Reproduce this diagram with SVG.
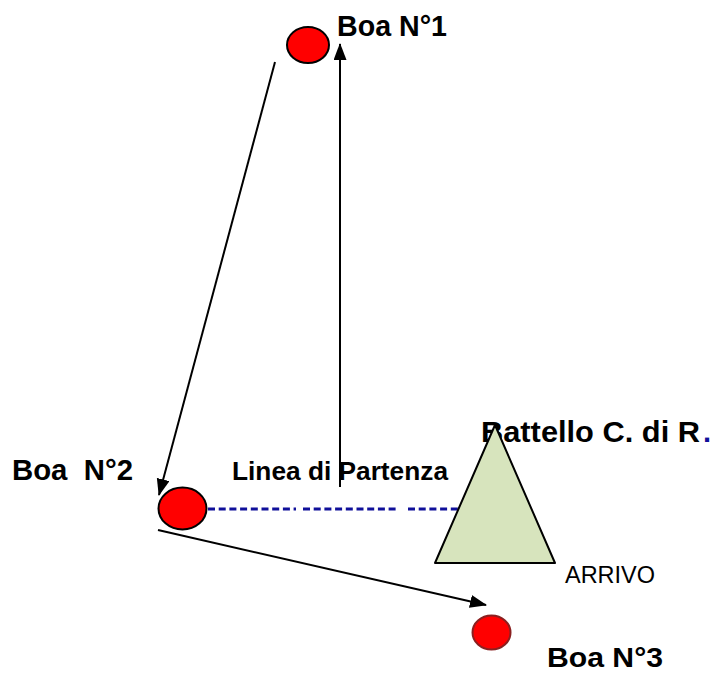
<svg xmlns="http://www.w3.org/2000/svg" width="715" height="673" viewBox="0 0 715 673">
<style>
.lbl{font-family:"Liberation Sans",Arial,sans-serif;font-weight:bold;fill:#000}
.reg{font-family:"Liberation Sans",Arial,sans-serif;fill:#000}
.boa{fill:#ff0000;stroke:#000;stroke-width:2}
.arr{stroke:#000;stroke-width:2;fill:none}
.dash{stroke:#10109a;stroke-width:2.8;stroke-dasharray:7 3.7;fill:none}
</style>
<defs>
<marker id="ah" markerUnits="userSpaceOnUse" markerWidth="18" markerHeight="14" refX="16" refY="6.5" orient="auto">
<path d="M0,0 L17,6.5 L0,13 z" fill="#000"/>
</marker>
</defs>
<rect width="715" height="673" fill="#fff"/>
<g id="connectors">
<path class="dash" d="M208,509 H296"/>
<path class="dash" d="M303,509 H398"/>
<path class="dash" d="M408,509 H462"/>
<line class="arr" x1="275" y1="62" x2="159" y2="495" marker-end="url(#ah)"/>
<line class="arr" x1="340" y1="487" x2="340" y2="44" marker-end="url(#ah)"/>
<line class="arr" x1="158" y1="530" x2="486" y2="605" marker-end="url(#ah)"/>
</g>
<g id="boa1">
<ellipse class="boa" cx="308" cy="45" rx="21" ry="18"/>
<text class="lbl" x="337" y="36" font-size="30" textLength="110" lengthAdjust="spacingAndGlyphs">Boa N°1</text>
</g>
<g id="boa2">
<ellipse class="boa" cx="182.5" cy="508.5" rx="24" ry="21"/>
<text class="lbl" x="12" y="480" font-size="30" textLength="121" lengthAdjust="spacingAndGlyphs" xml:space="preserve">Boa  N°2</text>
</g>
<g id="boa3">
<ellipse cx="491.5" cy="632.5" rx="19" ry="17" fill="#ff0000" stroke="#8a2020" stroke-width="2"/>
<text class="lbl" x="547" y="667" font-size="28" textLength="116" lengthAdjust="spacingAndGlyphs">Boa N°3</text>
</g>
<g id="linea">
<text class="lbl" x="232" y="480" font-size="26" textLength="216" lengthAdjust="spacingAndGlyphs">Linea di Partenza</text>
</g>
<g id="battello">
<text class="lbl" x="481" y="442" font-size="29" textLength="219" lengthAdjust="spacingAndGlyphs">Battello C. di R</text>
<text class="lbl" x="703" y="442" font-size="29" style="fill:#10109a">.</text>
<polygon points="495,425 555,563 435,563" fill="#d7e4bd" stroke="#000" stroke-width="2" stroke-linejoin="round"/>
<text class="reg" x="565" y="583" font-size="24" textLength="90" lengthAdjust="spacingAndGlyphs">ARRIVO</text>
</g>
</svg>
